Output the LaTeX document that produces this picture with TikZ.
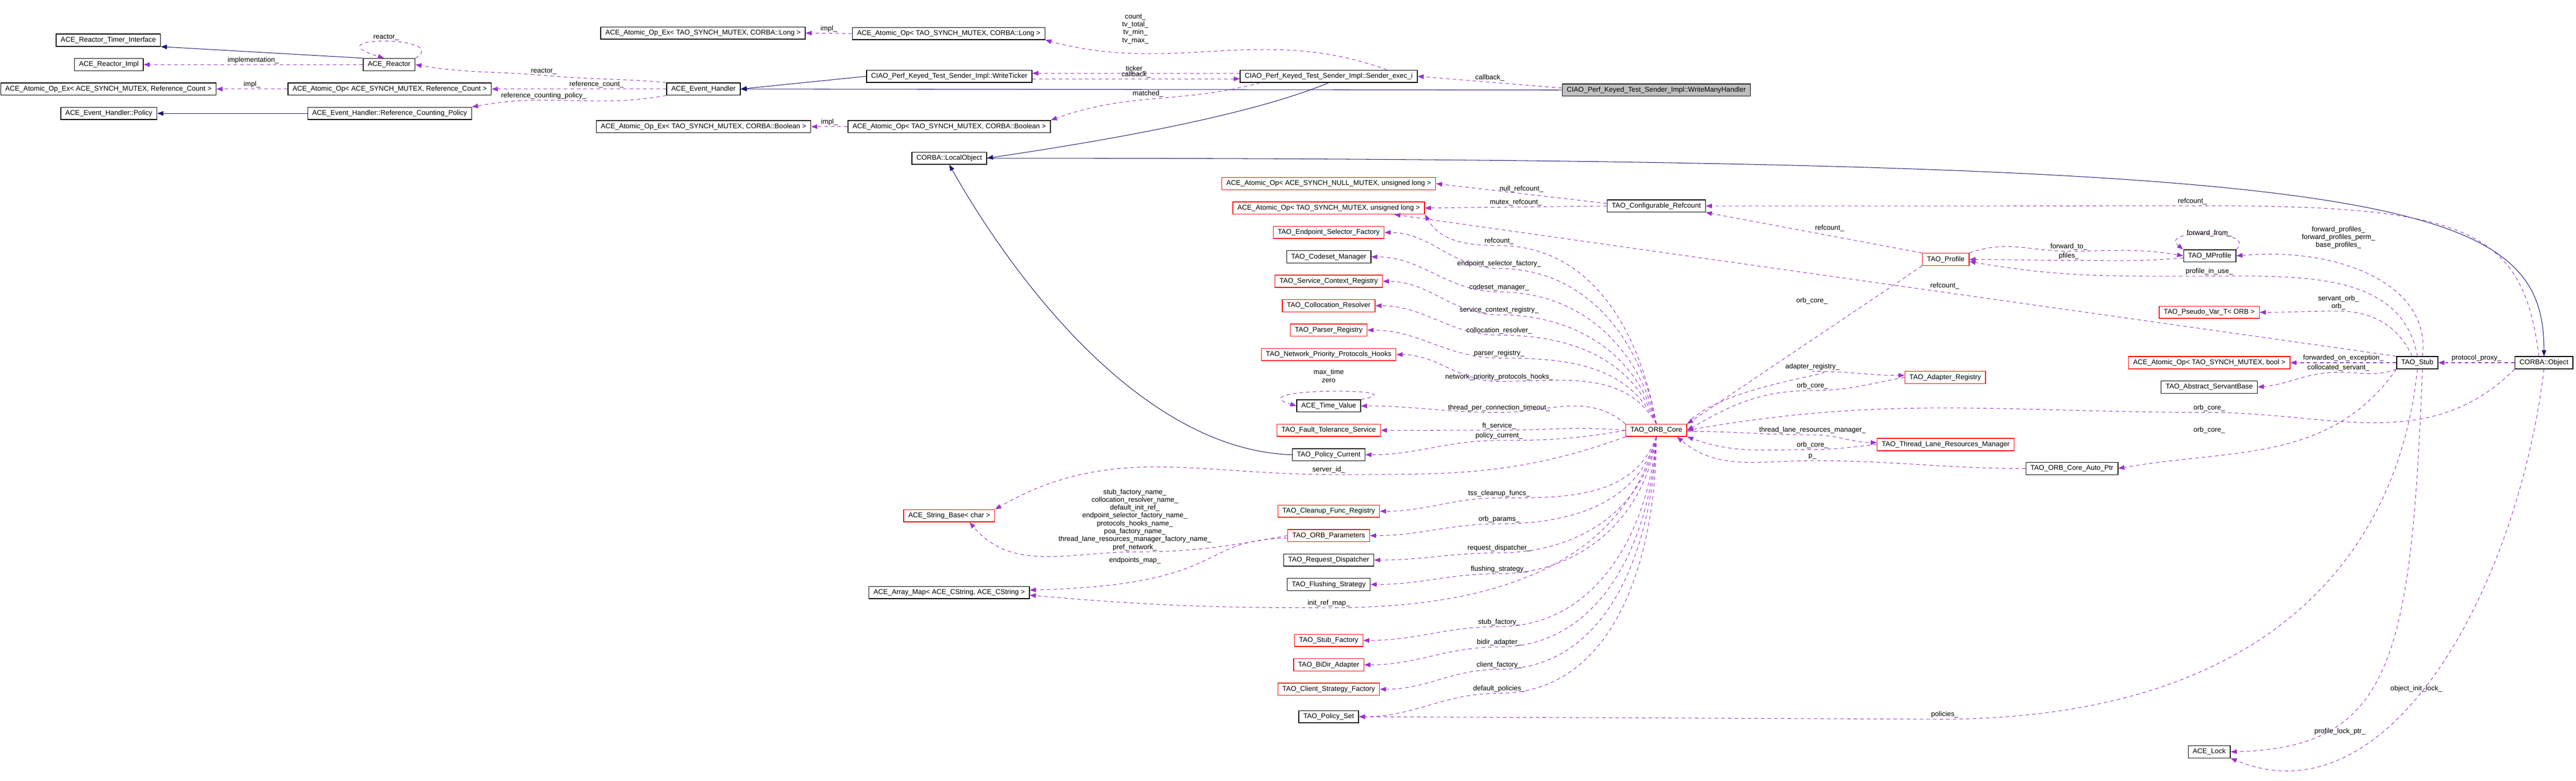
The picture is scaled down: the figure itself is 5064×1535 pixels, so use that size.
\documentclass[tikz,border=0pt]{standalone}
\usepackage{fontspec}
\setmainfont{Liberation Sans}
\usetikzlibrary{arrows.meta, positioning}
\definecolor{inhblue}{RGB}{25,25,112}
\definecolor{usepurple}{RGB}{154,50,205}
\newcommand\gfont{\fontsize{3.9}{4.4}\selectfont}
% label at x=2947 and a dashed usage edge from the ORB core through it
\newcommand\coreuse[6]{%
  \node[lbl] (#4) at (2947,#5) {#6};
  \draw[use] (core.#1) to[out=#2,in=0] (#4.south) to[out=180,in=0] (#3.east);}

\begin{document}
\begin{tikzpicture}[x=0.01cm, y=-0.01cm]
    % Default looks for classes, labels and edges
    \tikzstyle{cls}=[draw, rectangle, line width=0.4pt, font=\gfont, inner xsep=0.09cm, inner ysep=0pt, minimum height=0.24cm];
    \tikzstyle{rcls}=[cls, draw=red];
    \tikzstyle{lbl}=[font=\gfont, inner sep=0.5pt, align=center];
    \tikzstyle{inh}=[draw=inhblue, line width=0.3pt, -{Triangle[length=0.12cm,width=0.09cm,fill=inhblue]}];
    \tikzstyle{use}=[draw=usepurple, line width=0.3pt, dash pattern=on 0.07cm off 0.06cm, -{Triangle[length=0.12cm,width=0.09cm,fill=usepurple]}];
    \useasboundingbox (0,0) rectangle (5064,1535);

    % Reactor and event handler classes
    \node[cls] (rti) at (213,79) {ACE\_Reactor\_Timer\_Interface};
    \node[cls] (rimpl) at (214,127) {ACE\_Reactor\_Impl};
    \node[cls] (aoexrc) at (213,175) {ACE\_Atomic\_Op\_Ex< ACE\_SYNCH\_MUTEX, Reference\_Count >};
    \node[cls] (policy) at (214,223) {ACE\_Event\_Handler::Policy};
    \node[cls] (reactor) at (765,127) {ACE\_Reactor};
    \node[cls] (aoprc) at (766,175) {ACE\_Atomic\_Op< ACE\_SYNCH\_MUTEX, Reference\_Count >};
    \node[cls] (rcp) at (766,223) {ACE\_Event\_Handler::Reference\_Counting\_Policy};
    \node[cls] (eh) at (1383,175) {ACE\_Event\_Handler};
    \node[cls] (aoexlong) at (1382,65) {ACE\_Atomic\_Op\_Ex< TAO\_SYNCH\_MUTEX, CORBA::Long >};
    \node[cls] (aoexbool) at (1383,249) {ACE\_Atomic\_Op\_Ex< TAO\_SYNCH\_MUTEX, CORBA::Boolean >};
    \node[cls] (aoplong) at (1865,66) {ACE\_Atomic\_Op< TAO\_SYNCH\_MUTEX, CORBA::Long >};
    \node[cls] (wt) at (1866,150) {CIAO\_Perf\_Keyed\_Test\_Sender\_Impl::WriteTicker};
    \node[cls] (aopbool) at (1866,249) {ACE\_Atomic\_Op< TAO\_SYNCH\_MUTEX, CORBA::Boolean >};
    \node[cls] (sender) at (2612,150) {CIAO\_Perf\_Keyed\_Test\_Sender\_Impl::Sender\_exec\_i};
    \node[cls, fill=black!25] (wmh) at (3256,177) {CIAO\_Perf\_Keyed\_Test\_Sender\_Impl::WriteManyHandler};
    \node[cls] (lo) at (1866,311) {CORBA::LocalObject};

    % ORB core and its members
    \node[rcls] (nullul) at (2612,361) {ACE\_Atomic\_Op< ACE\_SYNCH\_NULL\_MUTEX, unsigned long >};
    \node[rcls] (syncul) at (2612,409) {ACE\_Atomic\_Op< TAO\_SYNCH\_MUTEX, unsigned long >};
    \node[rcls] (esf) at (2612,457) {TAO\_Endpoint\_Selector\_Factory};
    \node[cls] (csm) at (2612,505) {TAO\_Codeset\_Manager};
    \node[rcls] (scr) at (2612,553) {TAO\_Service\_Context\_Registry};
    \node[rcls] (colres) at (2612,601) {TAO\_Collocation\_Resolver};
    \node[rcls] (parser) at (2612,649) {TAO\_Parser\_Registry};
    \node[rcls] (npph) at (2612,697) {TAO\_Network\_Priority\_Protocols\_Hooks};
    \node[cls] (tv) at (2612,798) {ACE\_Time\_Value};
    \node[rcls] (fts) at (2612,846) {TAO\_Fault\_Tolerance\_Service};
    \node[cls] (pc) at (2612,894) {TAO\_Policy\_Current};
    \node[rcls] (sbase) at (1866,1014) {ACE\_String\_Base< char >};
    \node[rcls] (cfr) at (2612,1005) {TAO\_Cleanup\_Func\_Registry};
    \node[rcls] (params) at (2612,1053) {TAO\_ORB\_Parameters};
    \node[cls] (rd) at (2612,1101) {TAO\_Request\_Dispatcher};
    \node[cls] (fs) at (2612,1149) {TAO\_Flushing\_Strategy};
    \node[cls] (amap) at (1866,1165) {ACE\_Array\_Map< ACE\_CString, ACE\_CString >};
    \node[rcls] (stubf) at (2612,1259) {TAO\_Stub\_Factory};
    \node[rcls] (bidir) at (2612,1307) {TAO\_BiDir\_Adapter};
    \node[rcls] (csf) at (2612,1355) {TAO\_Client\_Strategy\_Factory};
    \node[cls] (pset) at (2612,1409) {TAO\_Policy\_Set};
    \node[rcls] (core) at (3256,846) {TAO\_ORB\_Core};
    \node[cls] (cr) at (3256,405) {TAO\_Configurable\_Refcount};

    % Stub side
    \node[rcls] (profile) at (3825,510) {TAO\_Profile};
    \node[cls] (mprof) at (4344,503) {TAO\_MProfile};
    \node[rcls] (pseudo) at (4343,614) {TAO\_Pseudo\_Var\_T< ORB >};
    \node[rcls] (aopb) at (4343,713) {ACE\_Atomic\_Op< TAO\_SYNCH\_MUTEX, bool >};
    \node[cls] (asb) at (4343,761) {TAO\_Abstract\_ServantBase};
    \node[cls] (stub) at (4752,713) {TAO\_Stub};
    \node[cls] (obj) at (5001,713) {CORBA::Object};
    \node[rcls] (adreg) at (3824,742) {TAO\_Adapter\_Registry};
    \node[rcls] (tlrm) at (3825,874) {TAO\_Thread\_Lane\_Resources\_Manager};
    \node[cls] (autoptr) at (4073,921) {TAO\_ORB\_Core\_Auto\_Ptr};
    \node[cls] (lock) at (4343,1478) {ACE\_Lock};

    % Inheritance
    \draw[inh] (reactor.north west) -- (rti.south east);
    \draw[inh] (rcp.west) -- (policy.east);
    \draw[inh] (wt.west) -- (eh.east);
    \draw[inh] (wmh.west) -- (eh.east);
    \draw[inh] (sender.south) .. controls (2450,230) and (2150,280) .. (lo.east);
    \draw[inh] (pc.west) .. controls (2250,885) and (2000,560) .. (lo.south);
    \draw[inh] (lo.east) .. controls (4700,311) and (5001,380) .. (obj.north);

    % Usage: reactor side
    \draw[use] (reactor.north east) .. controls (890,70) and (610,70) .. ([xshift=-0.1cm]reactor.north) node[lbl, pos=0.5, above] {reactor\_};
    \draw[use] (reactor.west) -- node[lbl, above] {implementation\_} (rimpl.east);
    \node[lbl] (lreac) at (1069,140) {reactor\_};
    \draw[use] (eh.north west) to[out=175,in=-5] (lreac.south) to[out=175,in=-10] (reactor.east);
    \draw[use] (eh.west) -- node[lbl, above, pos=0.4] {reference\_count\_} (aoprc.east);
    \node[lbl] (lrcp) at (1069,188) {reference\_counting\_policy\_};
    \draw[use] (eh.south west) to[out=190,in=0] (lrcp.south) to[out=180,in=10] (rcp.north east);
    \draw[use] (aoprc.west) -- node[lbl, above] {impl\_} (aoexrc.east);
    \draw[use] (aoplong.west) -- node[lbl, above] {impl\_} (aoexlong.east);
    \draw[use] (aopbool.west) -- node[lbl, above] {impl\_} (aoexbool.east);

    % Usage: sender side
    \node[lbl] (lcount) at (2232,57) {count\_\\tv\_total\_\\tv\_min\_\\tv\_max\_};
    \draw[use] ([xshift=-0.6cm]sender.north east) to[out=160,in=-15] (aoplong.south east);
    \draw[use] ([yshift=0.06cm]sender.west) -- node[lbl, above] {ticker\_} ([yshift=0.06cm]wt.east);
    \draw[use] ([yshift=-0.05cm]wt.east) -- node[lbl, above] {callback\_} ([yshift=-0.05cm]sender.west);
    \draw[use] ([xshift=0.4cm]sender.south west) to[out=195,in=20] node[lbl, pos=0.45, above left] {matched\_} (aopbool.north east);
    \draw[use] ([yshift=0.04cm]wmh.west) -- node[lbl, above] {callback\_} (sender.east);

    % Usage: refcounts
    \draw[use] ([yshift=0.05cm]cr.west) -- node[lbl, above] {null\_refcount\_} (nullul.east);
    \draw[use] (cr.west) -- node[lbl, above] {mutex\_refcount\_} (syncul.east);
    \draw[use] (profile.north west) -- node[lbl, above right] {refcount\_} (cr.south east);
    \node[lbl] (lobjref) at (4310,396) {refcount\_};
    \draw[use] ([xshift=-0.1cm]obj.north) .. controls (4960,450) and (4850,402) .. (lobjref.south) -- (cr.east);
    \node[lbl] (lcref) at (2947,474) {refcount\_};
    \draw[use] (core.north) to[out=100,in=0] (lcref.south) to[out=180,in=-60] (syncul.south east);
    \node[lbl] (lstubref) at (3823,562) {refcount\_};
    \draw[use] (stub.north west) -- ([xshift=-0.6cm]syncul.south east);

    % Usage: ORB core members
    \coreuse{north}{100}{esf}{lesf}{519}{endpoint\_selector\_factory\_}
    \coreuse{north}{103}{csm}{lcsm}{565}{codeset\_manager\_}
    \coreuse{north}{106}{scr}{lscr}{610}{service\_context\_registry\_}
    \coreuse{north}{110}{colres}{lcolres}{650}{collocation\_resolver\_}
    \coreuse{north}{115}{parser}{lparser}{695}{parser\_registry\_}
    \coreuse{north}{120}{npph}{lnpph}{741}{network\_priority\_protocols\_hooks\_}
    \coreuse{north west}{140}{tv}{ltpct}{802}{thread\_per\_connection\_timeout\_}
    \coreuse{west}{175}{fts}{lfts}{837}{ft\_service\_}
    \coreuse{west}{190}{pc}{lpc}{857}{policy\_current\_}
    \coreuse{south}{250}{cfr}{lcfr}{970}{tss\_cleanup\_funcs\_}
    \coreuse{south}{255}{params}{lparams}{1021}{orb\_params\_}
    \coreuse{south}{260}{rd}{lrd}{1078}{request\_dispatcher\_}
    \coreuse{south}{262}{fs}{lfs}{1119}{flushing\_strategy\_}
    \coreuse{south}{265}{stubf}{lstubf}{1223}{stub\_factory\_}
    \coreuse{south}{267}{bidir}{lbidir}{1263}{bidir\_adapter\_}
    \coreuse{south}{268}{csf}{lcsf}{1307}{client\_factory\_}
    \coreuse{south}{270}{pset}{lpset}{1354}{default\_policies\_}
    \draw[use] (tv.north east) .. controls (2800,762) and (2430,762) .. (tv.west);
    \node[lbl] at (2612,739) {max\_time\\zero};

    % Usage: strings and maps
    \node[lbl] (lsid) at (2612,924) {server\_id\_};
    \draw[use] (core.south west) to[out=200,in=0] (lsid.south) to[out=180,in=30] (sbase.north east);
    \node[lbl] (lnames) at (2231,1022) {stub\_factory\_name\_\\collocation\_resolver\_name\_\\default\_init\_ref\_\\endpoint\_selector\_factory\_name\_\\protocols\_hooks\_name\_\\poa\_factory\_name\_\\thread\_lane\_resources\_manager\_factory\_name\_\\pref\_network\_};
    \draw[use] (params.west) to[out=190,in=0] (lnames.south) to[out=180,in=-50] ([xshift=0.4cm]sbase.south);
    \node[lbl] at (2231,1102) {endpoints\_map\_};
    \draw[use] ([yshift=-0.05cm]params.west) .. controls (2350,1060) and (2420,1150) .. ([yshift=0.05cm]amap.east);
    \node[lbl] (linit) at (2612,1186) {init\_ref\_map\_};
    \draw[use] (core.south) to[out=255,in=0] (linit.south) to[out=180,in=-5] ([yshift=-0.05cm]amap.east);

    % Usage: core neighbours
    \node[lbl] at (3562,591) {orb\_core\_};
    \draw[use] (profile.south west) -- (core.north east);
    \node[lbl] (ladreg) at (3563,721) {adapter\_registry\_};
    \draw[use] (core.north east) to[out=50,in=0] (ladreg.south) to[out=0,in=180] ([yshift=0.04cm]adreg.west);
    \node[lbl] (ladcore) at (3563,759) {orb\_core\_};
    \draw[use] (adreg.west) to[out=190,in=0] (ladcore.south) to[out=180,in=30] (core.east);
    \node[lbl] (lobjcore) at (4343,802) {orb\_core\_};
    \draw[use] (obj.south west) to[out=225,in=0] (lobjcore.south) to[out=180,in=10] (core.east);
    \node[lbl] (ltlrm) at (3563,846) {thread\_lane\_resources\_manager\_};
    \draw[use] ([yshift=-0.02cm]core.east) to[out=0,in=180] (ltlrm.south) to[out=0,in=180] ([yshift=0.04cm]tlrm.west);
    \node[lbl] (ltlcore) at (3563,875) {orb\_core\_};
    \draw[use] (tlrm.west) to[out=185,in=0] (ltlcore.south) to[out=180,in=-20] (core.south east);
    \node[lbl] (lp) at (3563,898) {p\_};
    \draw[use] (autoptr.west) to[out=180,in=0] (lp.south) to[out=180,in=-40] ([xshift=-0.2cm]core.south east);
    \node[lbl] at (4343,846) {orb\_core\_};
    \draw[use] (stub.south west) to[out=235,in=10] (autoptr.east);

    % Usage: stub members
    \draw[use] (stub.west) -- node[lbl, above] {forwarded\_on\_exception\_} (aopb.east);
    \node[lbl] (lcoll) at (4597,723) {collocated\_servant\_};
    \draw[use] (stub.south west) to[out=200,in=0] (lcoll.south) to[out=180,in=5] (asb.east);
    \draw[use] (obj.west) -- node[lbl, above] {protocol\_proxy\_} (stub.east);
    \node[lbl] (lsorb) at (4597,595) {servant\_orb\_\\orb\_};
    \draw[use] ([xshift=-0.1cm]stub.north) to[out=115,in=0] (lsorb.south) to[out=180,in=0] (pseudo.east);
    \node[lbl] (lpiu) at (4343,534) {profile\_in\_use\_};
    \draw[use] (stub.north) to[out=100,in=0] (lpiu.south) to[out=180,in=-10] ([yshift=-0.04cm]profile.east);
    \node[lbl] at (4597,467) {forward\_profiles\_\\forward\_profiles\_perm\_\\base\_profiles\_};
    \draw[use] ([xshift=0.1cm]stub.north) .. controls (4780,560) and (4600,485) .. (mprof.east);
    \draw[use] (mprof.north east) .. controls (4440,450) and (4240,450) .. (mprof.north west);
    \node[lbl] at (4343,459) {forward\_from\_};
    \node[lbl] (lfwd) at (4067,485) {forward\_to\_};
    \draw[use] (profile.north east) to[out=20,in=180] (lfwd.south) to[out=0,in=170] (mprof.west);
    \node[lbl] (lpf) at (4067,503) {pfiles\_};
    \draw[use] ([yshift=-0.04cm]mprof.west) to[out=185,in=0] (lpf.south) to[out=180,in=0] (profile.east);
    \node[lbl] (lpol) at (3823,1405) {policies\_};
    \draw[use] (stub.south) .. controls (4720,1050) and (4500,1410) .. (lpol.south) -- (pset.east);
    \node[lbl] at (4600,1438) {profile\_lock\_ptr\_};
    \draw[use] ([xshift=0.1cm]stub.south) .. controls (4740,1300) and (4700,1470) .. (lock.east);
    \node[lbl] at (4750,1354) {object\_init\_lock\_};
    \draw[use] (obj.south) .. controls (4950,1150) and (4700,1620) .. (lock.south east);
\end{tikzpicture}
\end{document}
